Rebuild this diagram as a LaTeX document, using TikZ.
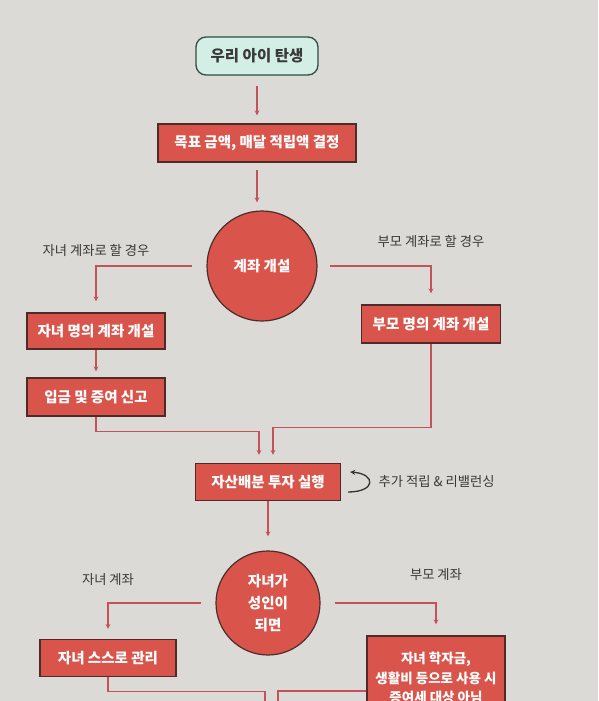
\documentclass[tikz,border=0pt]{standalone}
\usepackage{fontspec}
\setmainfont{Noto Sans CJK KR}
\usetikzlibrary{positioning}

\definecolor{paper}{HTML}{DCDAD7}
\definecolor{coral}{HTML}{D9554C}
\definecolor{edgebrown}{HTML}{4E2B28}
\definecolor{arrowred}{HTML}{C4525A}
\definecolor{mint}{HTML}{D3EEE4}
\definecolor{darkteal}{HTML}{2E4D46}
\definecolor{inkgray}{HTML}{3A3838}

\begin{document}
\begin{tikzpicture}[x=1pt,y=1pt,>=stealth,node distance=2cm,
    start/.style={rectangle,rounded corners=10pt,draw=darkteal,fill=mint,line width=1.3pt,
      minimum width=122pt,minimum height=38pt,text=inkgray,font=\fontsize{15.5}{17}\selectfont\bfseries},
    box/.style={rectangle,draw=edgebrown,fill=coral,line width=1.2pt,text=white,
      minimum height=38pt,font=\fontsize{14.5}{16}\selectfont\bfseries},
    decide/.style={circle,draw=edgebrown,fill=coral,line width=1.2pt,text=white,align=center,
      font=\fontsize{14.5}{22}\selectfont\bfseries},
    note/.style={text=inkgray,font=\fontsize{13.3}{15}\selectfont},
    arr/.style={->,draw=arrowred,line width=1.2pt}]
  \fill[paper] (0,0) rectangle (598,-701);
  \useasboundingbox (0,0) rectangle (598,-701);
  \clip (0,0) rectangle (598,-701);

  \node[start] (birth) at (257,-56) {우리 아이 탄생};
  \node[box,minimum width=198pt] (goal) [below of=birth,node distance=87pt] {목표 금액, 매달 적립액 결정};
  \node[decide,minimum size=110pt] (acct) [below of=goal,node distance=123pt,xshift=5pt] {계좌 개설};
  \node[box,minimum width=138pt,minimum height=36pt] (childopen) [below of=acct,node distance=65pt,xshift=-166pt] {자녀 명의 계좌 개설};
  \node[box,minimum width=138pt] (deposit) [below of=childopen,node distance=66pt] {입금 및 증여 신고};
  \node[box,minimum width=139pt] (parentopen) [below of=acct,node distance=58pt,xshift=169pt] {부모 명의 계좌 개설};
  \node[note] (childnote) [above=52pt of childopen] {자녀 계좌로 할 경우};
  \node[note] (parentnote) [above=53pt of parentopen] {부모 계좌로 할 경우};

  \node[box,minimum width=145pt,minimum height=37pt] (invest) [below of=acct,node distance=216pt,xshift=6pt] {자산배분 투자 실행};
  \node[note] (rebal) [right=34pt of invest] {추가 적립 \& 리밸런싱};
  \node[decide,minimum size=104pt] (adult) [below of=invest,node distance=121pt] {자녀가\\성인이\\되면};
  \node[box,minimum width=136pt,minimum height=37pt] (self) [below of=adult,node distance=55pt,xshift=-160pt] {자녀 스스로 관리};
  \node[box,minimum width=138pt,minimum height=84pt,align=center,
    font=\fontsize{13.5}{19.5}\selectfont\bfseries] (tuition) [below of=adult,node distance=75pt,xshift=168pt]
    {자녀 학자금,\\생활비 등으로 사용 시\\증여세 대상 아님};
  \node[note] (childnote2) [above=50pt of self] {자녀 계좌};
  \node[note] (parentnote2) [above=51pt of tuition] {부모 계좌};
  \coordinate (next) at ([xshift=4pt,yshift=-150pt]adult.center);

  \path (birth) edge[arr,shorten <=10pt,shorten >=8pt] (goal);
  \path (goal.south) edge[arr,shorten <=7pt,shorten >=8pt] (goal.south |- acct.north);
  \draw[arr,shorten <=14pt,shorten >=11pt] (acct.west) -| (childopen.north);
  \draw[arr,shorten <=12pt,shorten >=11pt] (acct.east) -| (parentopen.north);
  \path (childopen) edge[arr,shorten >=6pt] (deposit);
  \draw[arr,shorten >=8pt] (deposit.south) -- ++(0,-15) -| ([xshift=-9pt]invest.north);
  \draw[arr,shorten >=8pt] (parentopen.south) -- ++(0,-84) -| ([xshift=5pt]invest.north);
  \draw[->,draw=black!80,line width=1.3pt] ([xshift=7pt,yshift=-10pt]invest.east)
    .. controls +(28,0) and +(26,-2) .. ([xshift=9pt,yshift=10pt]invest.east);
  \path (invest) edge[arr,shorten >=14pt] (adult);
  \draw[arr,shorten <=14pt,shorten >=10pt] (adult.west) -| (self.north);
  \draw[arr,shorten <=14pt,shorten >=11pt] (adult.east) -| (tuition.north);
  \draw[arr] (self.south) -- ++(0,-14) -| ([xshift=-7pt]next);
  \draw[arr] ([yshift=-13pt]tuition.west) -| ([xshift=6pt]next);
\end{tikzpicture}
\end{document}
